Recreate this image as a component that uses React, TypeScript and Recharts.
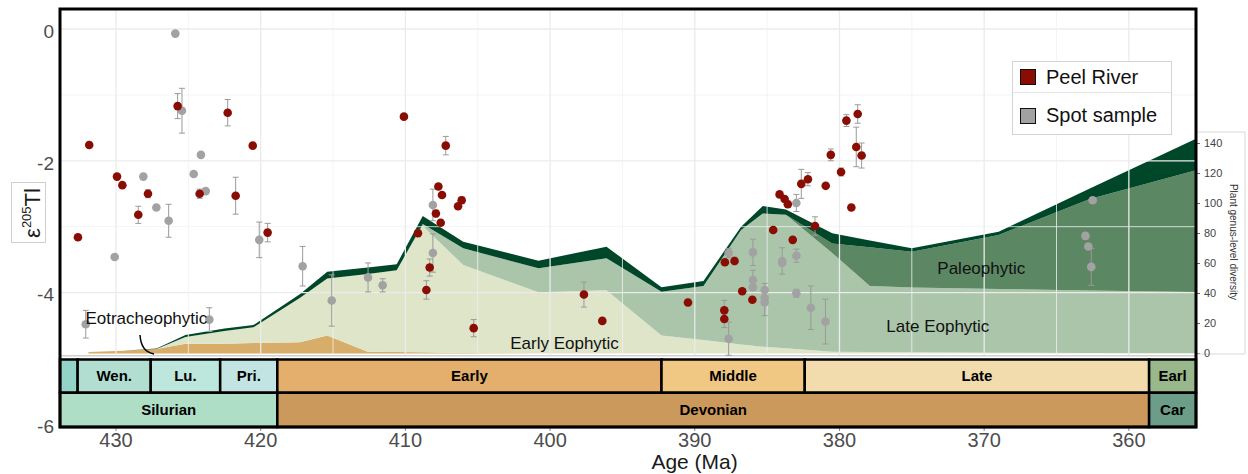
import React from "react"
import {
  Area,
  ComposedChart,
  ErrorBar,
  Legend,
  ReferenceArea,
  ReferenceDot,
  ReferenceLine,
  Scatter,
  XAxis,
  YAxis,
} from "recharts"

const FONT = '"Liberation Sans", Arial, Helvetica, sans-serif'

// Peel River section: age (Ma), e205Tl, error
const peelAge = [
  431.85, 432.63, 429.93, 429.56, 428.46, 427.79, 425.74, 424.22, 422.28, 421.73, 420.55, 419.52,
  410.1, 407.21, 407.72, 407.47, 407.89, 407.56, 406.11, 406.36, 409.13, 408.32, 408.55, 405.28, 397.66, 396.39, 390.47,
  384.14, 383.79, 383.57, 384.58, 383.23, 382.64, 382.18, 381.69, 380.95, 380.6, 379.89, 379.52, 378.74, 378.84, 378.47,
  379.18, 386.72, 386.02, 387.92, 387.25, 387.96, 387.96,
]
const peelEps = [
  -1.76, -3.16, -2.24, -2.37, -2.82, -2.5, -1.17, -2.5, -1.27, -2.53, -1.77, -3.09,
  -1.33, -1.77, -2.39, -2.52, -2.8, -2.94, -2.6, -2.69, -3.1, -3.62, -3.96, -4.54, -4.03, -4.43, -4.15,
  -2.51, -2.58, -2.66, -3.05, -3.2, -2.35, -2.28, -2.99, -2.38, -1.91, -2.17, -1.39, -1.29, -1.79, -1.92,
  -2.71, -3.98, -4.11, -3.54, -3.52, -4.27, -4.4,
]
const peelErr = [
  0.04, 0, 0, 0, 0.13, 0.06, 0.19, 0.07, 0.2, 0.28, 0.03, 0.14,
  0, 0.14, 0, 0, 0.05, 0, 0.05, 0, 0.05, 0.13, 0.14, 0.13, 0.19, 0, 0.05,
  0, 0, 0.05, 0, 0, 0.22, 0.1, 0.14, 0, 0.09, 0.06, 0.09, 0.14, 0.3, 0.19,
  0, 0, 0, 0, 0.06, 0.15, 0.13,
]

// spot samples
const spotAge = [
  425.9, 425.44, 424.13, 424.63, 423.8, 428.11, 427.21, 426.36, 430.09, 420.1, 417.1, 432.09, 423.55,
  415.09, 412.58, 411.57, 408.1, 408.1,
  387.66, 387.66, 385.98, 385.98, 385.98, 385.17, 385.17, 385.17, 383.96, 383.96, 382.98, 382.98, 382.98, 381.98, 380.97,
  363.0, 362.8, 362.6, 362.5,
]
const spotEps = [
  -0.07, -1.24, -1.91, -2.2, -2.46, -2.24, -2.71, -2.91, -3.46, -3.2, -3.6, -4.48, -4.41,
  -4.12, -3.77, -3.89, -2.67, -3.4,
  -3.4, -4.7, -3.39, -3.81, -3.92, -3.96, -4.08, -4.15, -3.52, -3.55, -3.44, -4.01, -2.64, -4.23, -4.44,
  -3.14, -3.3, -3.61, -2.6,
]
const spotErr = [
  0, 0.34, 0.03, 0, 0.03, 0, 0, 0.25, 0.03, 0.27, 0.3, 0.21, 0.18,
  0.39, 0.22, 0.1, 0.24, 0.29,
  0.07, 0.25, 0.2, 0.15, 0, 0.1, 0, 0.2, 0.2, 0, 0.1, 0.06, 0.13, 0.33, 0.34,
  0.05, 0, 0.28, 0,
]

// plant genus-level diversity: upper edge of each floral band (cumulative)
const bandAge = [431.9, 429.5, 427.2, 425.2, 422.5, 420.5, 417.3, 415.4, 412.6, 410.6, 408.8, 406.0, 400.8, 396.1, 392.3, 389.4, 386.8, 385.3, 383.7, 380.5, 377.9, 375.0, 369.0, 362.7, 355.3]
const eotraTop = [1, 1.8, 3, 6.5, 6.5, 7, 7.5, 12, 1.2, 1, 0.8, 0.3, 0, 0, 0, 0, 0, 0, 0, 0, 0, 0, 0, 0, 0]
const earlyEoTop = [1, 1.8, 3, 11, 15, 17.5, 37, 50, 53, 55.5, 85, 59, 40.8, 42.2, 12, 9, 6, 4.5, 3.5, 1.2, 1, 0.8, 0.5, 0.3, 0.2]
const lateEoTop = [1, 1.8, 3, 11, 15, 17.5, 37, 50, 53, 55.5, 86.3, 70.1, 56.8, 63.5, 41.2, 45, 82.3, 93.4, 92.5, 67, 45, 44, 43, 42, 41]
const paleoTop = [1, 1.8, 3, 11, 15, 17.5, 37, 50, 53, 55.5, 86.3, 70.1, 56.8, 63.5, 41.2, 45, 82.3, 93.4, 92.5, 73.4, 70.8, 67.9, 79, 103, 122.3]
const totalTop = [1, 1.8, 3.3, 12.3, 16.7, 19, 39.5, 54.5, 57.4, 59.5, 91.7, 74.5, 61.9, 71.2, 44.1, 48.3, 84.5, 98.3, 96, 80.1, 75.3, 70.1, 81.2, 110, 143.5]

const bandLabels = [
  { text: "Early Eophytic", age: 399.0, div: 6.8 },
  { text: "Late Eophytic", age: 373.2, div: 18.3 },
  { text: "Paleophytic", age: 370.2, div: 56.8 },
  { text: "Eotracheophytic", age: 427.9, div: 23.7 },
]

// geological time scale (Ma)
const epochNames = ["", "Wen.", "Lu.", "Pri.", "Early", "Middle", "Late", "Earl"]
const epochStart = [433.87, 432.65, 427.6, 422.8, 418.85, 392.3, 382.4, 358.6]
const epochEnd = [432.65, 427.6, 422.8, 418.85, 392.3, 382.4, 358.6, 355.36]
const periodNames = ["Silurian", "Devonian", "Car"]
const periodStart = [433.87, 418.85, 358.6]
const periodEnd = [418.85, 358.6, 355.36]

const ageTicks = [430, 420, 410, 400, 390, 380, 370, 360]
const epsTicks = [0, -2, -4, -6]
const divTicks = [0, 20, 40, 60, 80, 100, 120, 140]
const gridAges = [430, 425, 420, 415, 410, 405, 400, 395, 390, 385, 380, 375, 370, 365, 360]
const gridEps = [0, -1, -2, -3, -4]

const AGE_MIN = 355.36
const AGE_MAX = 433.87
const EPS_MIN = -6.04
const EPS_MAX = 0.3035
const DIV_MIN = -49
const DIV_MAX = 229.67
const PANEL_BOTTOM = -4.957
const EPOCH_TOP = -5.015
const EPOCH_BOTTOM = -5.519

const RED = "#8a0d03"
const GREY = "#a2a2a2"
const epochColors = ["#93d3c8", "#b1ded1", "#bde6dc", "#c2e4e2", "#e4af6c", "#f1c784", "#f2dcae", "#98b78a"]
const periodColors = ["#afdec7", "#cc995c", "#6c9d88"]

const peel = peelAge.map((age, i) => ({ age, eps: peelEps[i], err: peelErr[i] }))
const spot = spotAge.map((age, i) => ({ age, eps: spotEps[i], err: spotErr[i] }))
const bands = bandAge.map((age, i) => ({
  age,
  eotra: [0, eotraTop[i]],
  earlyEo: [eotraTop[i], earlyEoTop[i]],
  lateEo: [earlyEoTop[i], lateEoTop[i]],
  paleo: [lateEoTop[i], paleoTop[i]],
  upper: [paleoTop[i], totalTop[i]],
}))

const dot = (fill: string) => (p: any) => <circle cx={p.cx} cy={p.cy} r={4.3} fill={fill} />

const leaderShape = (p: any) => (
  <path
    d={`M${p.x1},${p.y1} Q${p.x1 + 1},${p.y2 - 2} ${p.x2},${p.y2}`}
    fill="none"
    stroke="#000"
    strokeWidth={1.5}
  />
)

const renderAgeTitle = (props: any) => {
  const vb = props?.viewBox ?? { x: 60, width: 1136 }
  return (
    <text x={vb.x + vb.width * 0.5586} y={469} textAnchor="middle" fontSize={21} fill="#1a1a1a">
      Age (Ma)
    </text>
  )
}

const renderEpsTitle = () => (
  <g>
    <rect x={11.5} y={182.5} width={34} height={60} fill="#fff" stroke="#cfcfcf" />
    <text transform="translate(40 213) rotate(-90)" textAnchor="middle" fontSize={22} fill="#1a1a1a">
      ε
      <tspan fontSize={13} dy={-9}>205</tspan>
      <tspan dy={9}>Tl</tspan>
    </text>
  </g>
)

const renderDivTitle = () => (
  <g>
    <path d="M1197 132 H1245 V354 H1197" fill="none" stroke="#d9d9d9" />
    <text
      transform="translate(1233 242) rotate(90)"
      textAnchor="middle"
      dominantBaseline="central"
      fontSize={10}
      fill="#333"
    >
      Plant genus-level diversity
    </text>
  </g>
)

const legendItems = [
  { name: "Peel River", color: RED },
  { name: "Spot sample", color: GREY },
]

function LegendBox() {
  return (
    <div
      style={{
        width: 160,
        height: 74,
        boxSizing: "border-box",
        border: "1px solid #d4d4d4",
        background: "#fff",
        fontFamily: FONT,
      }}
    >
      {legendItems.map((item, i) => (
        <div
          key={item.name}
          style={{
            height: i === 0 ? 31 : 41,
            boxSizing: "border-box",
            paddingTop: i === 0 ? 0 : 4,
            borderBottom: i === 0 ? "1px solid #e4e4e4" : "none",
            display: "flex",
            alignItems: "center",
          }}
        >
          <span
            style={{
              display: "inline-block",
              width: 14,
              height: 14,
              marginLeft: 7,
              marginRight: 10,
              background: item.color,
              border: "1.5px solid #111",
            }}
          />
          <span style={{ fontSize: 20, color: "#111", whiteSpace: "nowrap" }}>{item.name}</span>
        </div>
      ))}
    </div>
  )
}

export default function App() {
  return (
    <div style={{ position: "absolute", left: 0, top: 0, width: 1248, height: 474, background: "#fff", fontFamily: FONT }}>
      <ComposedChart width={1248} height={474} data={bands} margin={{ top: 9, right: 0, bottom: 0, left: 0 }}>
        <XAxis
          dataKey="age"
          type="number"
          domain={[AGE_MIN, AGE_MAX]}
          reversed
          allowDataOverflow
          ticks={ageTicks}
          interval={0}
          height={47}
          axisLine={false}
          tickSize={4}
          tickMargin={2}
          tickLine={{ stroke: "#8a8a8a" }}
          tick={{ fontSize: 20, fill: "#4d4d4d" }}
          label={renderAgeTitle}
        />
        <YAxis
          yAxisId="eps"
          dataKey="eps"
          type="number"
          domain={[EPS_MIN, EPS_MAX]}
          allowDataOverflow
          ticks={epsTicks}
          interval={0}
          width={60}
          axisLine={false}
          tickLine={false}
          tickSize={4}
          tickMargin={2}
          tick={{ fontSize: 19, fill: "#4d4d4d", dy: 2 }}
          label={renderEpsTitle}
        />
        <YAxis
          yAxisId="div"
          orientation="right"
          type="number"
          domain={[DIV_MIN, DIV_MAX]}
          allowDataOverflow
          ticks={divTicks}
          interval={0}
          width={52}
          axisLine={false}
          tickSize={4}
          tickMargin={4}
          tickLine={{ stroke: "#666" }}
          tick={{ fontSize: 11, fill: "#444" }}
          label={renderDivTitle}
        />

        <Area yAxisId="div" dataKey="eotra" type="linear" fill="#d8ad6a" fillOpacity={1} stroke="none" isAnimationActive={false} />
        <Area yAxisId="div" dataKey="earlyEo" type="linear" fill="#dfe5c9" fillOpacity={1} stroke="none" isAnimationActive={false} />
        <Area yAxisId="div" dataKey="lateEo" type="linear" fill="#aac5aa" fillOpacity={1} stroke="none" isAnimationActive={false} />
        <Area yAxisId="div" dataKey="paleo" type="linear" fill="#5b8763" fillOpacity={1} stroke="none" isAnimationActive={false} />
        <Area yAxisId="div" dataKey="upper" type="linear" fill="#00472a" fillOpacity={1} stroke="none" isAnimationActive={false} />

        {gridEps.map((v) => (
          <ReferenceLine
            key={`h${v}`}
            yAxisId="eps"
            y={v}
            stroke={v % 2 === 0 ? "#ebebeb" : "#f1f1f1"}
            strokeWidth={v % 2 === 0 ? 1.3 : 0.8}
            zIndex={150}
          />
        ))}
        {gridAges.map((a) => (
          <ReferenceLine
            key={`v${a}`}
            yAxisId="eps"
            segment={[
              { x: a, y: PANEL_BOTTOM },
              { x: a, y: EPS_MAX },
            ]}
            stroke={a % 10 === 0 ? "#ebebeb" : "#f1f1f1"}
            strokeWidth={a % 10 === 0 ? 1.3 : 0.8}
            zIndex={150}
          />
        ))}
        <ReferenceLine yAxisId="eps" y={PANEL_BOTTOM} stroke="#cfcfcf" strokeWidth={1.5} zIndex={150} />
        <ReferenceLine
          yAxisId="div"
          segment={[
            { x: 428.34, y: 12.3 },
            { x: 427.37, y: -0.3 },
          ]}
          shape={leaderShape}
          ifOverflow="visible"
          zIndex={160}
        />

        <Scatter yAxisId="eps" name="Spot sample" data={spot} dataKey="eps" fill={GREY} shape={dot(GREY)} isAnimationActive={false} zIndex={600}>
          <ErrorBar dataKey="err" direction="y" width={3} stroke="#9a9a9a" strokeWidth={1} isAnimationActive={false} />
        </Scatter>
        <Scatter yAxisId="eps" name="Peel River" data={peel} dataKey="eps" fill={RED} shape={dot(RED)} isAnimationActive={false} zIndex={610}>
          <ErrorBar dataKey="err" direction="y" width={3} stroke="#9a9a9a" strokeWidth={1} isAnimationActive={false} />
        </Scatter>

        {epochNames.map((name, i) => (
          <ReferenceArea
            key={`ep${i}`}
            yAxisId="eps"
            x1={epochStart[i]}
            x2={epochEnd[i]}
            y1={EPOCH_BOTTOM}
            y2={EPOCH_TOP}
            fill={epochColors[i]}
            fillOpacity={1}
            stroke="#000"
            strokeWidth={2.5}
            ifOverflow="visible"
            zIndex={700}
            label={name ? { value: name, position: "center", fontSize: 15, fontWeight: "bold", fill: "#000" } : undefined}
          />
        ))}
        {periodNames.map((name, i) => (
          <ReferenceArea
            key={`pe${i}`}
            yAxisId="eps"
            x1={periodStart[i]}
            x2={periodEnd[i]}
            y1={EPS_MIN}
            y2={EPOCH_BOTTOM}
            fill={periodColors[i]}
            fillOpacity={1}
            stroke="#000"
            strokeWidth={2.5}
            ifOverflow="visible"
            zIndex={700}
            label={{ value: name, position: "center", fontSize: 15, fontWeight: "bold", fill: "#000" }}
          />
        ))}

        {bandLabels.map((l) => (
          <ReferenceDot
            key={l.text}
            yAxisId="div"
            x={l.age}
            y={l.div}
            r={0}
            fill="none"
            stroke="none"
            ifOverflow="visible"
            zIndex={800}
            label={{ value: l.text, position: "center", fontSize: 17, fill: "#111" }}
          />
        ))}

        <ReferenceArea
          yAxisId="eps"
          x1={AGE_MAX}
          x2={AGE_MIN}
          y1={EPS_MIN}
          y2={EPS_MAX}
          fill="none"
          stroke="#000"
          strokeWidth={3}
          ifOverflow="visible"
          zIndex={900}
        />

        <Legend
          layout="vertical"
          align="center"
          verticalAlign="middle"
          content={() => <LegendBox />}
          wrapperStyle={{ left: 1012, top: 61, width: 160, height: 74 }}
        />
      </ComposedChart>
    </div>
  )
}
